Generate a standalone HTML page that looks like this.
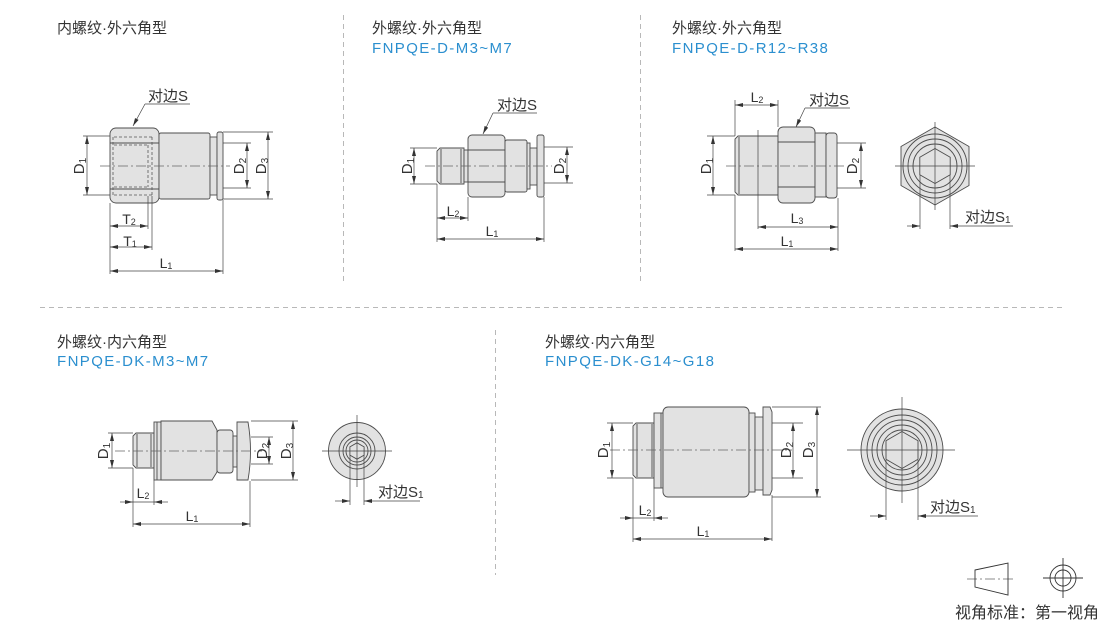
<!DOCTYPE html>
<html><head><meta charset="utf-8">
<style>
html,body{margin:0;padding:0;background:#fff;}
svg{display:block;}
.t{font-family:"Liberation Sans","Noto Sans CJK SC",sans-serif;fill:#333;}
.b{font-family:"Liberation Sans",sans-serif;fill:#2b8fcf;font-size:15px;letter-spacing:1.4px;}
.lb{font-family:"Liberation Sans",sans-serif;fill:#333;font-size:14px;}
</style></head><body>
<svg width="1110" height="621" viewBox="0 0 1110 621" xmlns="http://www.w3.org/2000/svg">
<defs>
<marker id="a" viewBox="0 0 8 4" refX="8" refY="2" markerWidth="8" markerHeight="4" markerUnits="userSpaceOnUse" orient="auto-start-reverse"><path d="M0,0 L8,2 L0,4 z" fill="#333"/></marker>
</defs>

<!-- separators -->
<g stroke="#b8b8b8" stroke-width="1" stroke-dasharray="5 4" fill="none">
<line x1="40" y1="307.5" x2="1065" y2="307.5"/>
<line x1="343.5" y1="15" x2="343.5" y2="282"/>
<line x1="640.5" y1="15" x2="640.5" y2="282"/>
<line x1="495.5" y1="330" x2="495.5" y2="575"/>
</g>

<!-- titles -->
<g class="t" font-size="15">
<text x="57" y="33">内螺纹·外六角型</text>
<text x="372" y="33">外螺纹·外六角型</text>
<text x="672" y="33">外螺纹·外六角型</text>
<text x="57" y="347">外螺纹·内六角型</text>
<text x="545" y="347">外螺纹·内六角型</text>
</g>
<text class="b" x="372" y="53">FNPQE-D-M3~M7</text>
<text class="b" x="672" y="53">FNPQE-D-R12~R38</text>
<text class="b" x="57" y="366">FNPQE-DK-M3~M7</text>
<text class="b" x="545" y="366">FNPQE-DK-G14~G18</text>

<!-- ============ parts ============ -->
<g fill="#e2e2e2" stroke="#4d4d4d" stroke-width="0.9">
<!-- drawing 1 -->
<rect x="110" y="128" width="49" height="75" rx="6"/>
<rect x="159" y="133" width="51" height="66" rx="2"/>
<rect x="210" y="137" width="7" height="58"/>
<rect x="217" y="132" width="6" height="68" rx="2"/>
<!-- drawing 2 -->
<path d="M440,148 H464 V184 H440 L437,181 V151 Z"/>
<rect x="464" y="150" width="4" height="32"/>
<rect x="468" y="135" width="37" height="62" rx="4"/>
<rect x="505" y="140" width="22" height="52" rx="2"/>
<rect x="527" y="143" width="3" height="46"/>
<rect x="530" y="148" width="7" height="37"/>
<rect x="537" y="135" width="7" height="62" rx="2"/>
<!-- drawing 3 -->
<path d="M738,136 H778 V195 H738 L735,192 V139 Z"/>
<rect x="778" y="127" width="37" height="76" rx="5"/>
<rect x="815" y="133" width="11" height="64"/>
<rect x="826" y="133" width="11" height="65" rx="3"/>
<polygon points="935,127 969,146.5 969,185.5 935,205 901,185.5 901,146.5"/>
<!-- drawing 4 -->
<path d="M136,433 H154 V468 H136 L133,465 V436 Z"/>
<rect x="154" y="422" width="7" height="58"/>
<path d="M161,421 H212 L217,430 V472 L212,480 H161 Z"/>
<rect x="217" y="430" width="16" height="43" rx="3"/>
<rect x="233" y="436" width="4" height="31"/>
<path d="M237,422 H248 Q253,451 248,480 H237 Z"/>
<circle cx="357" cy="451" r="28.5"/>
<!-- drawing 5 -->
<path d="M636,423 H654 V478 H636 L633,475 V426 Z"/>
<rect x="654" y="413" width="9" height="75"/>
<rect x="663" y="407" width="86" height="90" rx="5"/>
<rect x="749" y="413" width="6" height="79"/>
<rect x="755" y="417" width="8" height="73"/>
<path d="M763,407 H770 L772,412 V490 L770,495 H763 Z"/>
<circle cx="902" cy="450" r="41"/>
</g>

<!-- inner part lines -->
<g fill="none" stroke="#4d4d4d" stroke-width="0.9">
<line x1="110" y1="143" x2="159" y2="143"/>
<line x1="110" y1="189" x2="159" y2="189"/>
<line x1="441" y1="149" x2="441" y2="183"/>
<line x1="461" y1="149" x2="461" y2="183"/>
<line x1="468" y1="150" x2="505" y2="150"/>
<line x1="468" y1="182" x2="505" y2="182"/>
<line x1="739" y1="137" x2="739" y2="194"/>
<line x1="778" y1="142" x2="815" y2="142"/>
<line x1="778" y1="187" x2="815" y2="187"/>
<circle cx="935" cy="166" r="32"/>
<circle cx="935" cy="166" r="27"/>
<circle cx="935" cy="166" r="22"/>
<polygon points="935,148.5 950.2,157.25 950.2,174.75 935,183.5 919.8,174.75 919.8,157.25" fill="#e2e2e2"/>
<line x1="137" y1="434" x2="137" y2="467"/>
<line x1="151" y1="434" x2="151" y2="467"/>
<line x1="157" y1="422" x2="157" y2="480"/>
<circle cx="357" cy="451" r="18"/>
<circle cx="357" cy="451" r="14"/>
<circle cx="357" cy="451" r="11"/>
<polygon points="357,442.8 364.1,446.9 364.1,455.1 357,459.2 349.9,455.1 349.9,446.9"/>
<line x1="637" y1="424" x2="637" y2="477"/>
<line x1="652" y1="424" x2="652" y2="477"/>
<line x1="661" y1="413" x2="661" y2="488"/>
<circle cx="902" cy="450" r="35"/>
<circle cx="902" cy="450" r="30"/>
<circle cx="902" cy="450" r="25"/>
<circle cx="902" cy="450" r="20"/>
<polygon points="902,431.5 918,440.75 918,459.25 902,468.5 886,459.25 886,440.75"/>
</g>

<!-- hidden thread (drawing 1) -->
<g fill="none" stroke="#555" stroke-width="0.8" stroke-dasharray="3 2">
<line x1="114" y1="137" x2="152" y2="137"/>
<line x1="114" y1="195" x2="152" y2="195"/>
<line x1="114" y1="145" x2="148" y2="145"/>
<line x1="114" y1="187" x2="148" y2="187"/>
<line x1="113" y1="137" x2="113" y2="195"/>
<line x1="148" y1="145" x2="148" y2="187"/>
<line x1="152" y1="137" x2="152" y2="195"/>
</g>

<!-- center lines -->
<g stroke="#666" stroke-width="0.8" stroke-dasharray="10 3 2 3" fill="none">
<line x1="100" y1="166" x2="230" y2="166"/>
<line x1="425" y1="166" x2="552" y2="166"/>
<line x1="726" y1="166" x2="845" y2="166"/>
<line x1="115" y1="451" x2="262" y2="451"/>
<line x1="610" y1="450" x2="792" y2="450"/>
<line x1="967" y1="579" x2="1014" y2="579"/>
</g>

<!-- dimension / extension lines -->
<g stroke="#444" stroke-width="0.7" fill="none">
<!-- d1 -->
<line x1="83" y1="136" x2="110" y2="136"/><line x1="83" y1="195" x2="110" y2="195"/>
<line x1="87" y1="136" x2="87" y2="195" marker-start="url(#a)" marker-end="url(#a)"/>
<line x1="223" y1="143" x2="251" y2="143"/><line x1="223" y1="188" x2="251" y2="188"/>
<line x1="247" y1="143" x2="247" y2="188" marker-start="url(#a)" marker-end="url(#a)"/>
<line x1="223" y1="132" x2="273" y2="132"/><line x1="223" y1="199" x2="273" y2="199"/>
<line x1="268" y1="132" x2="268" y2="199" marker-start="url(#a)" marker-end="url(#a)"/>
<line x1="148" y1="196" x2="148" y2="229"/>
<line x1="152" y1="196" x2="152" y2="250"/>
<line x1="110" y1="203" x2="110" y2="274"/>
<line x1="223" y1="200" x2="223" y2="274"/>
<line x1="110" y1="226" x2="148" y2="226" marker-start="url(#a)" marker-end="url(#a)"/>
<line x1="110" y1="247" x2="152" y2="247" marker-start="url(#a)" marker-end="url(#a)"/>
<line x1="110" y1="271" x2="223" y2="271" marker-start="url(#a)" marker-end="url(#a)"/>
<polyline points="190,104 145,104"/>
<line x1="145" y1="104" x2="133" y2="126" marker-end="url(#a)"/>
<!-- d2 -->
<line x1="410" y1="148" x2="437" y2="148"/><line x1="410" y1="184" x2="437" y2="184"/>
<line x1="414" y1="148" x2="414" y2="184" marker-start="url(#a)" marker-end="url(#a)"/>
<line x1="544" y1="147" x2="573" y2="147"/><line x1="544" y1="183" x2="573" y2="183"/>
<line x1="567" y1="147" x2="567" y2="183" marker-start="url(#a)" marker-end="url(#a)"/>
<line x1="437" y1="184" x2="437" y2="242"/>
<line x1="468" y1="197" x2="468" y2="221"/>
<line x1="544" y1="197" x2="544" y2="242"/>
<line x1="437" y1="218" x2="468" y2="218" marker-start="url(#a)" marker-end="url(#a)"/>
<line x1="437" y1="239" x2="544" y2="239" marker-start="url(#a)" marker-end="url(#a)"/>
<line x1="537" y1="113" x2="493" y2="113"/>
<line x1="493" y1="113" x2="483" y2="134" marker-end="url(#a)"/>
<!-- d3 -->
<line x1="707" y1="136" x2="735" y2="136"/><line x1="707" y1="195" x2="735" y2="195"/>
<line x1="713" y1="136" x2="713" y2="195" marker-start="url(#a)" marker-end="url(#a)"/>
<line x1="837" y1="143" x2="866" y2="143"/><line x1="837" y1="188" x2="866" y2="188"/>
<line x1="861" y1="143" x2="861" y2="188" marker-start="url(#a)" marker-end="url(#a)"/>
<line x1="735" y1="100" x2="735" y2="136"/><line x1="735" y1="195" x2="735" y2="251"/>
<line x1="778" y1="100" x2="778" y2="127"/>
<line x1="758" y1="130" x2="758" y2="229"/>
<line x1="838" y1="198" x2="838" y2="251"/>
<line x1="735" y1="105" x2="778" y2="105" marker-start="url(#a)" marker-end="url(#a)"/>
<line x1="758" y1="227" x2="838" y2="227" marker-start="url(#a)" marker-end="url(#a)"/>
<line x1="735" y1="249" x2="838" y2="249" marker-start="url(#a)" marker-end="url(#a)"/>
<line x1="850" y1="108" x2="805" y2="108"/>
<line x1="805" y1="108" x2="796" y2="127" marker-end="url(#a)"/>
<line x1="895" y1="166" x2="975" y2="166"/>
<line x1="935" y1="122" x2="935" y2="210"/>
<line x1="920" y1="175" x2="920" y2="229"/>
<line x1="950" y1="175" x2="950" y2="229"/>
<line x1="907" y1="226" x2="920" y2="226" marker-end="url(#a)"/>
<line x1="1013" y1="226" x2="950" y2="226" marker-end="url(#a)"/>
<!-- d4 -->
<line x1="108" y1="433" x2="133" y2="433"/><line x1="108" y1="468" x2="133" y2="468"/>
<line x1="112" y1="433" x2="112" y2="468" marker-start="url(#a)" marker-end="url(#a)"/>
<line x1="251" y1="437" x2="273" y2="437"/><line x1="251" y1="464" x2="273" y2="464"/>
<line x1="269" y1="437" x2="269" y2="464" marker-start="url(#a)" marker-end="url(#a)"/>
<line x1="251" y1="421" x2="298" y2="421"/><line x1="251" y1="480" x2="298" y2="480"/>
<line x1="293" y1="421" x2="293" y2="480" marker-start="url(#a)" marker-end="url(#a)"/>
<line x1="133" y1="468" x2="133" y2="527"/>
<line x1="154" y1="480" x2="154" y2="505"/>
<line x1="250" y1="481" x2="250" y2="527"/>
<line x1="120" y1="502" x2="133" y2="502" marker-end="url(#a)"/>
<line x1="133" y1="502" x2="154" y2="502"/>
<line x1="168" y1="502" x2="154" y2="502" marker-end="url(#a)"/>
<line x1="133" y1="524" x2="250" y2="524" marker-start="url(#a)" marker-end="url(#a)"/>
<line x1="322" y1="451" x2="392" y2="451"/>
<line x1="357" y1="415" x2="357" y2="487"/>
<line x1="350" y1="455" x2="350" y2="505"/>
<line x1="364" y1="455" x2="364" y2="505"/>
<line x1="335" y1="501" x2="350" y2="501" marker-end="url(#a)"/>
<line x1="420" y1="501" x2="364" y2="501" marker-end="url(#a)"/>
<!-- d5 -->
<line x1="607" y1="423" x2="633" y2="423"/><line x1="607" y1="478" x2="633" y2="478"/>
<line x1="612" y1="423" x2="612" y2="478" marker-start="url(#a)" marker-end="url(#a)"/>
<line x1="772" y1="423" x2="803" y2="423"/><line x1="772" y1="478" x2="803" y2="478"/>
<line x1="793" y1="423" x2="793" y2="478" marker-start="url(#a)" marker-end="url(#a)"/>
<line x1="772" y1="407" x2="821" y2="407"/><line x1="772" y1="497" x2="821" y2="497"/>
<line x1="817" y1="407" x2="817" y2="497" marker-start="url(#a)" marker-end="url(#a)"/>
<line x1="633" y1="478" x2="633" y2="542"/>
<line x1="654" y1="488" x2="654" y2="521"/>
<line x1="772" y1="495" x2="772" y2="541"/>
<line x1="620" y1="518" x2="633" y2="518" marker-end="url(#a)"/>
<line x1="633" y1="518" x2="654" y2="518"/>
<line x1="668" y1="518" x2="654" y2="518" marker-end="url(#a)"/>
<line x1="633" y1="539" x2="772" y2="539" marker-start="url(#a)" marker-end="url(#a)"/>
<line x1="847" y1="450" x2="955" y2="450"/>
<line x1="902" y1="397" x2="902" y2="503"/>
<line x1="886" y1="460" x2="886" y2="520"/>
<line x1="918" y1="460" x2="918" y2="520"/>
<line x1="870" y1="516" x2="886" y2="516" marker-end="url(#a)"/>
<line x1="978" y1="516" x2="918" y2="516" marker-end="url(#a)"/>
</g>

<!-- legend -->
<g fill="none" stroke="#333" stroke-width="0.9">
<polygon points="975,570 1008,563 1008,595 975,587"/>
<circle cx="1063" cy="578" r="13"/>
<circle cx="1063" cy="578" r="8"/>
<line x1="1043" y1="578" x2="1083" y2="578"/>
<line x1="1063" y1="558" x2="1063" y2="598"/>
</g>
<text class="t" x="955" y="618" font-size="16">视角标准：第一视角</text>

<!-- labels -->
<g class="lb">
<!-- D labels rotated -->
<text transform="translate(84,166) rotate(-90)" text-anchor="middle" font-size="15">D<tspan font-size="10" dy="2">1</tspan></text>
<text transform="translate(244,166) rotate(-90)" text-anchor="middle" font-size="15">D<tspan font-size="10" dy="2">2</tspan></text>
<text transform="translate(266,166) rotate(-90)" text-anchor="middle" font-size="15">D<tspan font-size="10" dy="2">3</tspan></text>
<text transform="translate(412,166) rotate(-90)" text-anchor="middle" font-size="15">D<tspan font-size="10" dy="2">1</tspan></text>
<text transform="translate(564,166) rotate(-90)" text-anchor="middle" font-size="15">D<tspan font-size="10" dy="2">2</tspan></text>
<text transform="translate(711,166) rotate(-90)" text-anchor="middle" font-size="15">D<tspan font-size="10" dy="2">1</tspan></text>
<text transform="translate(857,166) rotate(-90)" text-anchor="middle" font-size="15">D<tspan font-size="10" dy="2">2</tspan></text>
<text transform="translate(108,451) rotate(-90)" text-anchor="middle" font-size="15">D<tspan font-size="10" dy="2">1</tspan></text>
<text transform="translate(267,451) rotate(-90)" text-anchor="middle" font-size="15">D<tspan font-size="10" dy="2">2</tspan></text>
<text transform="translate(291,451) rotate(-90)" text-anchor="middle" font-size="15">D<tspan font-size="10" dy="2">3</tspan></text>
<text transform="translate(608,450) rotate(-90)" text-anchor="middle" font-size="15">D<tspan font-size="10" dy="2">1</tspan></text>
<text transform="translate(791,450) rotate(-90)" text-anchor="middle" font-size="15">D<tspan font-size="10" dy="2">2</tspan></text>
<text transform="translate(813,450) rotate(-90)" text-anchor="middle" font-size="15">D<tspan font-size="10" dy="2">3</tspan></text>
<!-- T / L labels -->
<text x="129" y="224" text-anchor="middle">T<tspan font-size="9" dy="1">2</tspan></text>
<text x="130" y="246" text-anchor="middle">T<tspan font-size="9" dy="1">1</tspan></text>
<text x="166" y="268" text-anchor="middle">L<tspan font-size="9" dy="1">1</tspan></text>
<text x="453" y="216" text-anchor="middle">L<tspan font-size="9" dy="1">2</tspan></text>
<text x="492" y="236" text-anchor="middle">L<tspan font-size="9" dy="1">1</tspan></text>
<text x="757" y="102" text-anchor="middle">L<tspan font-size="9" dy="1">2</tspan></text>
<text x="797" y="223" text-anchor="middle">L<tspan font-size="9" dy="1">3</tspan></text>
<text x="787" y="246" text-anchor="middle">L<tspan font-size="9" dy="1">1</tspan></text>
<text x="143" y="498" text-anchor="middle">L<tspan font-size="9" dy="1">2</tspan></text>
<text x="192" y="521" text-anchor="middle">L<tspan font-size="9" dy="1">1</tspan></text>
<text x="645" y="515" text-anchor="middle">L<tspan font-size="9" dy="1">2</tspan></text>
<text x="703" y="536" text-anchor="middle">L<tspan font-size="9" dy="1">1</tspan></text>
</g>

<!-- 对边 labels -->
<g class="t" font-size="15">
<text x="148" y="101">对边S</text>
<text x="497" y="110">对边S</text>
<text x="809" y="105">对边S</text>
<text x="965" y="222">对边S<tspan font-size="10" dy="1">1</tspan></text>
<text x="378" y="497">对边S<tspan font-size="10" dy="1">1</tspan></text>
<text x="930" y="512">对边S<tspan font-size="10" dy="1">1</tspan></text>
</g>
</svg>
</body></html>
